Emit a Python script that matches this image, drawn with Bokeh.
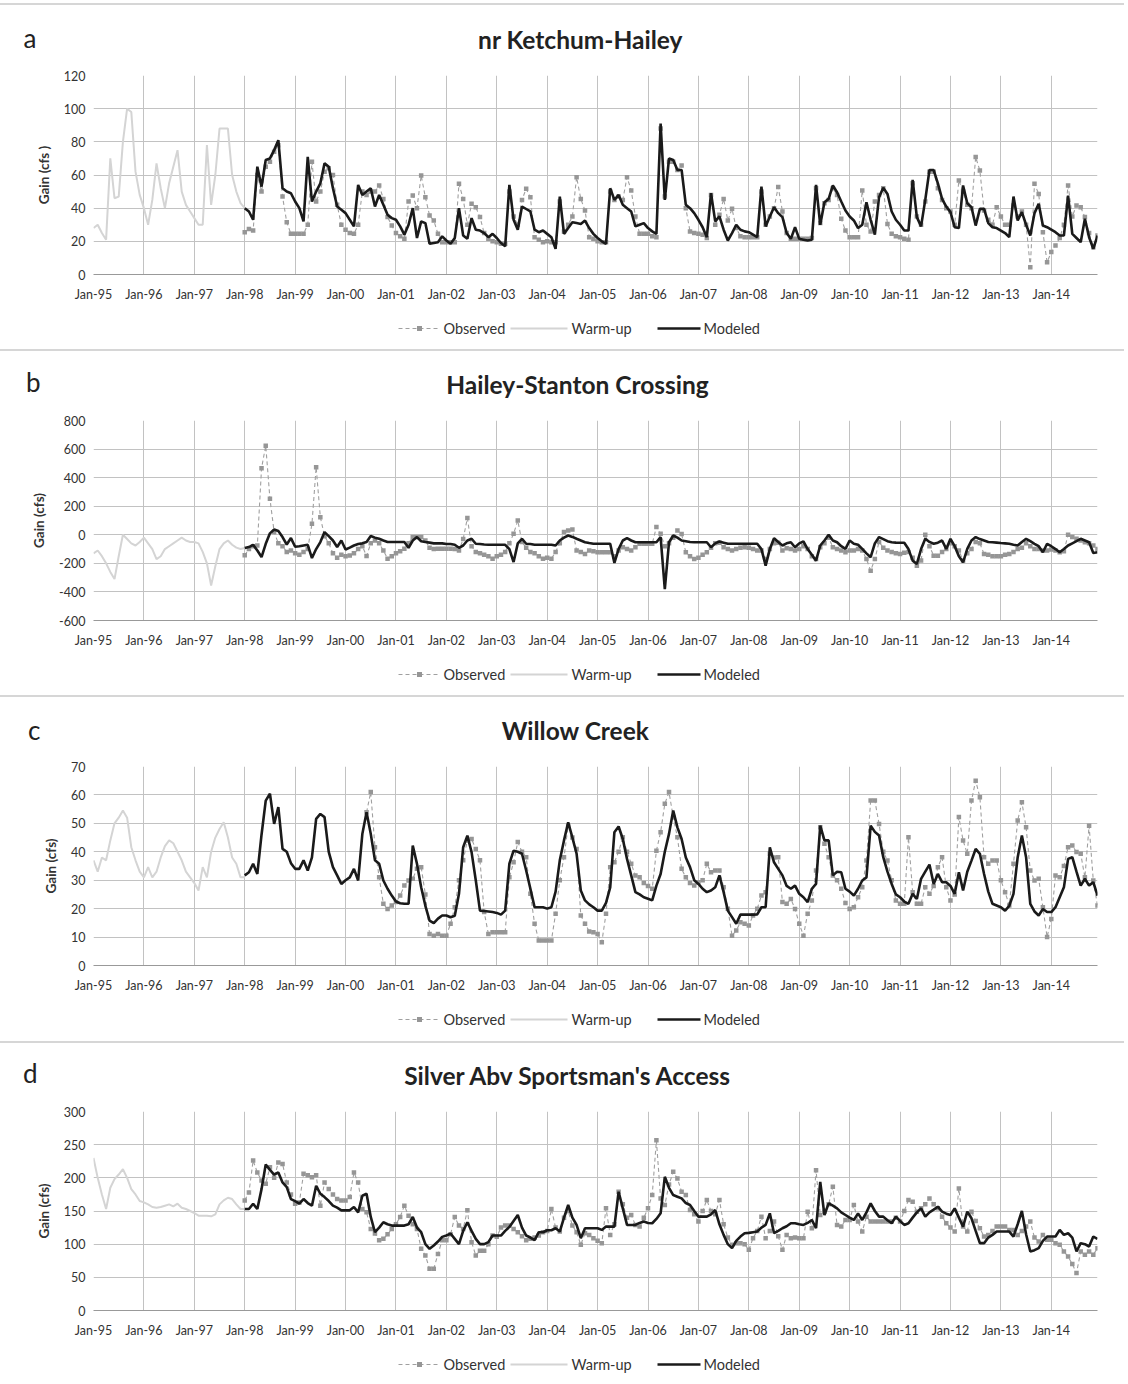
import sys
import numpy as np
from bokeh.plotting import figure
from bokeh.models import Range1d, FixedTicker, Div
from bokeh.layouts import column
from bokeh.embed import file_html
from bokeh.resources import INLINE
from bokeh.core.properties import value

N = None

# x axis: month index 0 = Jan-95 ... 239 = Dec-14 ; ticks every January
X_TICKS = [0, 12, 24, 36, 48, 60, 72, 84, 96, 108, 120, 132, 144, 156, 168, 180, 192, 204, 216, 228]
X_TICK_LABELS = ["Jan-95", "Jan-96", "Jan-97", "Jan-98", "Jan-99", "Jan-00", "Jan-01", "Jan-02",
                 "Jan-03", "Jan-04", "Jan-05", "Jan-06", "Jan-07", "Jan-08", "Jan-09", "Jan-10",
                 "Jan-11", "Jan-12", "Jan-13", "Jan-14"]
LEGEND_LABELS = ["Observed", "Warm-up", "Modeled"]
WARM_START = 0      # Jan-95
MODEL_START = 36    # Jan-98

# ---------------- a: nr Ketchum-Hailey ----------------
A_WARM = [28, 30, 25, 21, 70, 46, 47, 80, 100, 98, 62, 48,
          40, 30, 45, 67, 52, 40, 55, 65, 75, 50, 42, 38,
          34, 30, 30, 78, 42, 60, 88, 88, 88, 60, 50, 43,
          40]
A_MOD = [40, 38, 33, 65, 53, 69, 70, 75, 81, 52, 50, 49,
         44, 40, 32, 71, 44, 50, 55, 67, 65, 52, 41, 39,
         37, 33, 29, 54, 48, 50, 52, 41, 48, 42, 36, 34,
         33, 29, 24, 30, 40, 22, 32, 31, 18.5, 19, 19.5, 23,
         20.5, 18.5, 22, 40, 23.5, 21.5, 34, 27, 26.5, 25, 22.5, 24.5,
         22, 19, 17, 54, 33, 27, 41, 39.5, 38, 27, 25.5, 26.5,
         24.5, 22.5, 15.5, 47, 24.5, 28, 31.5, 31, 30.5, 32.5, 28, 24.5,
         22, 20, 18.5, 52, 45, 48, 42, 40, 38, 29, 30, 31,
         28, 26, 24.5, 91, 45, 70, 69, 63, 63, 42, 40, 37,
         33, 28.5, 22.5, 49, 32, 35, 27, 20.5, 25, 30, 27, 26,
         25.5, 24, 22.5, 53, 29, 35, 40.6, 37, 34.6, 25, 21.5, 28.5,
         21.5, 21, 20.5, 21, 54, 30, 43.6, 45.6, 53.7, 49.6, 44, 38.6,
         35, 32.6, 28, 30, 43.6, 33, 24, 46.6, 52.3, 48.6, 38, 33,
         30, 26.5, 26.5, 57, 34.6, 29, 45, 63, 63, 55, 45.6, 41,
         37.6, 28.5, 28, 53.7, 43, 40.6, 29.5, 39.6, 39.6, 31, 28.5, 28,
         26.5, 25, 22.5, 47, 32.6, 37.6, 30, 23.5, 37, 42.6, 29.5, 28.5,
         27, 25.5, 23.5, 23.5, 47.6, 24.5, 22, 19.5, 33.6, 22.5, 15.5, 23.5]
A_OBS = [25.5, 27.5, 26.5, 60, 50, 65, 68, 74, 78, 47, 31.5, 24.5,
         24.5, 24.5, 24.5, 30, 68, 44, 50, 62, 64, 60, 42, 30,
         27, 25, 24.5, 30, 50, 48, 50, 50, 53.7, 45.6, 34.6, 29.5,
         25, 23, 21.5, 44, 47.6, 40, 59.7, 46.6, 35.6, 32.6, 24.5, 19.5,
         19.5, 19.5, 19.5, 54.7, 45.6, 30, 42.6, 40.6, 34.6, 25, 21.5, 20,
         19.5, 18.5, 18.5, 50, 35, 30, 45, 51.7, 46.6, 22.5, 21, 19.5,
         20, 19.5, 19.5, 44, 26, 30, 35, 58.7, 45.6, 38.6, 22.5, 21.5,
         20, 19.5, 19.5, 50, 45, 47, 45, 58.7, 50.7, 35, 24.5, 24.5,
         24.5, 23, 22.5, 88, 47, 68, 68, 63, 65.7, 40, 26, 25,
         24.5, 24, 22, 48, 30, 36, 45.6, 32.6, 39.6, 28, 23, 22.5,
         22.5, 22.5, 22.5, 50, 30, 35, 40, 52.7, 38, 25, 21.5, 21.5,
         21.5, 21.5, 21.5, 22, 52, 31, 43, 45, 52, 48, 33.6, 26.5,
         22.5, 22.5, 22.5, 50.7, 30, 26, 44, 48, 52, 30.5, 24.5, 23,
         22.5, 21.5, 21, 55, 35, 30, 44, 62, 62, 52, 45, 40,
         38, 30, 56.7, 50, 42, 40, 70.8, 62.7, 38.6, 33, 30, 40.6,
         35, 30, 30, 41.6, 35, 38, 30, 4.4, 54.7, 48.6, 25.5, 7.4,
         13.5, 17.5, 22, 30, 53.7, 35, 41.6, 40.6, 34.6, 25, 16.5, 23.5]

# ---------------- b: Hailey-Stanton Crossing ----------------
B_WARM = [-130, -110, -150, -200, -260, -310, -150, 0, -30, -60, -75, -50,
          -20, -60, -100, -170, -150, -100, -80, -60, -40, -20, -40, -50,
          -50, -60, -120, -200, -355, -220, -100, -60, -40, -70, -90, -100,
          -93]
B_MOD = [-93, -86, -70, -110, -156, -63, 10, 37, 26, -16, -68, -23,
         -84, -80, -75, -70, -163, -100, -51, 19, -9, -40, -86, -40,
         -103, -90, -75, -65, -60, -51, -9, -20, -28, -40, -50, -51,
         -51, -51, -51, -91, -40, -16, -45, -51, -55, -60, -60, -60,
         -65, -65, -70, -91, -75, -40, -28, -63, -65, -68, -70, -70,
         -70, -70, -70, -100, -191, -60, -28, -63, -65, -70, -70, -70,
         -70, -70, -75, -40, -20, -5, -15, -28, -40, -52, -58, -63,
         -63, -63, -63, -63, -197, -100, -40, -24, -40, -52, -52, -52,
         -52, -52, -52, -16, -380, -52, -5, -20, -40, -45, -50, -52,
         -52, -52, -52, -87, -60, -47, -55, -63, -63, -63, -63, -63,
         -63, -63, -63, -100, -216, -100, -24, -50, -75, -60, -52, -87,
         -60, -47, -100, -140, -181, -75, -40, 0, -40, -52, -80, -99,
         -40, -63, -70, -99, -130, -157, -60, -16, -30, -45, -52, -55,
         -56, -56, -100, -181, -204, -100, -28, -50, -63, -55, -40, -99,
         -28, -80, -150, -193, -99, -40, -16, -30, -40, -50, -52, -55,
         -58, -60, -63, -70, -75, -50, -28, -45, -63, -80, -122, -63,
         -80, -100, -122, -100, -75, -60, -45, -28, -40, -52, -127, -122]
B_OBS = [-144, -100, -80, -75, 466, 624, 252, 20, -60, -80, -120, -110,
         -130, -140, -120, -100, 77, 473, 123, -10, -60, -130, -160, -140,
         -150, -145, -130, -100, -80, -149, -60, -40, -60, -110, -167, -150,
         -130, -115, -98, -60, -16, -16, -16, -40, -90, -100, -98, -98,
         -98, -98, -100, -110, -30, 117, -80, -120, -130, -140, -150, -167,
         -150, -140, -120, -60, 7, 100, -50, -90, -120, -130, -150, -167,
         -160, -167, -120, -60, 20, 30, 37, -110, -120, -134, -110, -115,
         -122, -122, -122, -122, -150, -110, -87, -100, -110, -87, -63, -63,
         -63, -63, 54, 7, -80, -60, -20, 30, 5, -122, -150, -170,
         -160, -140, -122, -90, -60, -55, -87, -100, -110, -100, -90, -87,
         -90, -100, -110, -110, -170, -100, -60, -55, -110, -95, -99, -110,
         -99, -80, -100, -150, -170, -87, -60, -20, -87, -100, -110, -122,
         -110, -110, -99, -110, -170, -251, -170, -50, -90, -110, -120, -130,
         -134, -125, -120, -160, -216, -180, 0, -80, -146, -146, -120, -100,
         -60, -80, -110, -180, -130, -100, -50, -60, -134, -140, -150, -150,
         -150, -140, -134, -120, -100, -90, -60, -80, -99, -100, -110, -110,
         -103, -110, -122, -115, 0, -16, -28, -40, -52, -60, -75, -100]

# ---------------- c: Willow Creek ----------------
C_WARM = [37, 33, 38, 37, 44, 50, 52, 54.5, 52, 41.6, 37, 33,
          31, 34.6, 31, 33, 38, 42, 44, 43, 40, 37, 33, 31,
          29, 26.4, 34.6, 31, 40, 45, 48, 50.4, 45, 38, 35.8, 31,
          31]
C_MOD = [31.7, 32.8, 35.8, 32.2, 46, 58, 60.4, 49.8, 55.7, 41, 40, 36,
         34, 34, 37, 33.4, 38, 51.6, 53.3, 52.2, 40, 34.6, 31.7, 28.7,
         30, 31, 34, 29.9, 46.3, 53.9, 46.3, 37, 35.8, 29.9, 27, 24.6,
         22.5, 21.9, 21.7, 21.7, 42.2, 35.8, 27.5, 21, 15.8, 14.9, 16.5, 17.6,
         17.6, 17, 17.5, 25.2, 41.6, 45.7, 39.9, 30, 19.3, 19.2, 19, 18.8,
         18.5, 17.9, 19.3, 35.8, 40.4, 40, 39.3, 33.4, 27, 20.5, 20.5, 20.5,
         20, 20.5, 26, 37, 44, 50.4, 45, 39.3, 26.4, 22.9, 21.5, 20.5,
         19.3, 19.3, 22, 27.5, 46.9, 48.9, 44.5, 37.5, 31.7, 25.8, 25, 24,
         23.5, 22.9, 28.1, 32.2, 40, 46.3, 54.5, 48.6, 44.5, 38, 34.6, 30,
         28.7, 27, 25.8, 26.4, 27.5, 31.7, 25.8, 19.3, 17, 14.7, 17.9, 17.9,
         17.9, 17.9, 18, 20.5, 20.5, 41.6, 36.3, 34, 31.7, 28, 27, 28.1,
         25.2, 24, 22.3, 27, 28.7, 49.2, 44, 44, 31.7, 33, 32.8, 27,
         26, 24.6, 27, 29.9, 31, 49.2, 47, 45.7, 38.1, 33, 28.7, 25,
         24, 22.5, 21.7, 25.2, 23.4, 30.5, 33, 35.5, 28.7, 32.2, 29.3, 29.3,
         28, 25.2, 32.8, 26.4, 33, 36.9, 41, 39.3, 32.2, 26, 21.7, 21.1,
         20.5, 19.3, 21, 25.2, 38.1, 45.7, 38.1, 21.7, 19, 17.6, 19.9, 18.8,
         18.8, 20.5, 24, 27.5, 37.5, 38.1, 33, 28.1, 30.5, 28.1, 29.3, 24.6]
C_OBS = [N, N, N, N, N, N, N, N, N, N, N, N,
         N, N, N, N, N, N, N, N, N, N, N, N,
         N, N, N, N, N, 53.9, 61, 41.6, 31, 21.7, 19.9, 21.1,
         22.3, 24.6, 28.1, 29.9, 30.5, 34, 34.6, 25, 11.1, 10.5, 11.1, 10.5,
         10.5, 14.7, 20.5, 30, 37, 44, 44.5, 41, 37, 18.8, 11.1, 11.7,
         11.7, 11.7, 11.7, 31, 36.3, 43.4, 40, 38.1, 25.2, 14.7, 8.8, 8.8,
         8.8, 8.8, 18.2, 30, 38.1, 49.2, 45, 41, 17.6, 14.7, 12, 11.7,
         11.1, 8.2, 18.2, 34.6, 36.3, 40, 45.1, 40, 35.8, 31.7, 31, 29,
         28, 27, 40.4, 46.9, 56.9, 61, 52.2, 45.1, 34, 31, 29, 28.1,
         29.3, 30, 35.8, 32.8, 33.4, 33.4, 27.5, 20, 10.5, 12.3, 15.2, 14.7,
         14.1, 17.6, 20, 24.6, 25.8, 39.3, 38, 38.1, 22.3, 21.7, 23.4, 19.9,
         14.7, 10.5, 18.2, 22.9, 33.4, 48.6, 42.8, 38.1, 31.7, 30, 27, 22,
         19.9, 20.5, 24, 27.5, 36.9, 58, 58, 49.8, 40, 36.9, 30, 22.9,
         21.7, 21.7, 45.1, 25.8, 21.7, 21.7, 27.5, 25.2, 28, 34.6, 38.1, 27.5,
         22.9, 25, 52.2, 44, 39.3, 58, 65, 59.2, 38.1, 35.8, 36.9, 36.9,
         30, 25.8, 21.1, 35.8, 51, 57.4, 48.6, 33.4, 29.9, 30.5, 20.5, 10,
         16.4, 31.7, 31, 35, 41.6, 42.2, 39.9, 39.3, 31, 49.2, 29.9, 21.1]

# ---------------- d: Silver Abv Sportsman's Access ----------------
D_WARM = [230, 200, 175, 153, 185, 198, 205, 213, 200, 183, 175, 165,
          163, 160, 156, 155, 156, 158, 160, 157, 161, 155, 153, 150,
          147, 143, 143, 143, 142, 145, 160, 166, 170, 168, 160, 153,
          153]
D_MOD = [153, 153, 161, 153, 183, 220, 212, 205, 208, 193, 186, 168,
         165, 161, 168, 162, 158, 188, 176, 171, 165, 158, 155, 151,
         151, 151, 156, 148, 173, 176, 141, 118, 125, 133, 130, 128,
         128, 128, 128, 130, 141, 125, 118, 100, 93, 98, 104, 111,
         113, 116, 108, 100, 120, 133, 120, 108, 100, 100, 103, 113,
         113, 113, 120, 126, 135, 144, 125, 113, 110, 106, 118, 118,
         121, 121, 124, 119, 140, 159, 140, 129, 109, 124, 124, 124,
         124, 121.5, 126.5, 126.5, 126.5, 179, 154, 129, 129, 129, 132, 134,
         132, 131.5, 138, 146.5, 201.5, 185, 174, 171.5, 169, 162, 159, 150,
         141.5, 141.5, 141.5, 145, 151.5, 130, 114, 100, 94, 105, 111.5, 116.5,
         117, 118, 119, 125, 129, 146.5, 116.5, 120, 124, 127, 131.5, 131.5,
         130, 129, 132, 136.5, 124, 194, 144, 161.5, 158, 154, 148, 144,
         140, 136.5, 146.5, 136.5, 148, 161.5, 150, 141.5, 141.5, 136, 131.5, 141.5,
         135, 129, 131.5, 140, 148, 154, 141.5, 148, 152, 156.5, 149, 146,
         144, 154, 140, 126.5, 149, 139, 120, 101.5, 101.5, 110, 114, 119,
         119, 119, 119, 111.5, 130, 150, 115, 89, 91, 94, 105, 111.5,
         111.5, 111.5, 121.5, 114, 116.5, 110, 89, 101.5, 100, 96.5, 111.5, 108]
D_OBS = [166, 178, 226, 208, 196, 191, 216, 200, 223, 221, 193, 175,
         161, 163, 206, 204, 201, 204, 158, 193, 183, 175, 168, 166,
         166, 171, 208, 193, 153, 148, 123, 116, 106, 108, 115, 123,
         130, 141, 158, 143, 130, 123, 93, 83, 63, 63, 85, 106,
         106, 115, 141, 128, 123, 151, 103, 83, 90, 90, 100, 113,
         111, 125, 128, 128, 123, 118, 112, 106, 108, 110, 113, 118,
         120, 153, 125, 119, 140, 150, 128, 118, 99, 116.5, 114, 109,
         105, 101.5, 154, 114, 130, 179, 160, 140, 144, 129, 126.5, 140,
         154, 174, 256.5, 169, 159, 190, 209, 199, 179, 174, 151.5, 145,
         134, 150, 166.5, 150, 145, 166.5, 130, 110, 99, 101.5, 101.5, 100,
         91.5, 109, 120, 141.5, 109, 120, 134, 112, 91.5, 114, 109, 110,
         109, 109, 149, 124, 211.5, 144, 149, 160, 186.5, 129, 126.5, 136.5,
         136.5, 159, 134, 119, 141.5, 134, 134, 134, 134, 134, 134, 140,
         134, 150, 166.5, 164, 149, 154, 160, 169, 160, 154, 141.5, 131.5,
         125, 119, 184, 126.5, 119, 149, 135, 124, 111.5, 114, 120, 126.5,
         126.5, 126.5, 121.5, 121.5, 114, 120, 126.5, 134, 110, 104, 114, 106.5,
         106.5, 101.5, 99, 89, 81.5, 70, 56.5, 89, 84, 89, 84, 94]

PANELS = [
    dict(letter="a", title="nr Ketchum-Hailey", ylabel="Gain (cfs )", ymin=0, ymax=120, ystep=20,
         warm=A_WARM, mod=A_MOD, obs=A_OBS, top=75, fh=199, tx=580, lx=29, ly=30),
    dict(letter="b", title="Hailey-Stanton Crossing", ylabel="Gain (cfs)", ymin=-600, ymax=800, ystep=200,
         warm=B_WARM, mod=B_MOD, obs=B_OBS, top=74, fh=200, tx=577, lx=33, ly=31),
    dict(letter="c", title="Willow Creek", ylabel="Gain (cfs)", ymin=0, ymax=70, ystep=10,
         warm=C_WARM, mod=C_MOD, obs=C_OBS, top=74, fh=199, tx=575, lx=33, ly=29),
    dict(letter="d", title="Silver Abv Sportsman's Access", ylabel="Gain (cfs)", ymin=0, ymax=300, ystep=50,
         warm=D_WARM, mod=D_MOD, obs=D_OBS, top=73, fh=199, tx=568, lx=30, ly=31),
]

FONT = "Lato"
W, PANEL_H = 1124, 346
L, FW = 93, 1004          # frame left edge and width (page pixels)
R = W - L - FW
CHART_TOP, CHART_BOTTOM = 8, 34
SEP_H = 6                 # 3px gap + 2px line + 1px gap
XMAX = 239
TXT = "#333333"
GRID = "#c2c2c2"
WARM_COLOR, OBS_COLOR, OBS_MARK, MOD_COLOR = "#d4d4d4", "#a0a0a0", "#969696", "#1a1a1a"


def blank(h, yaxis=False):
    # frame spans page x L..L+FW, so data x == page x inside it
    p = figure(width=W, height=h, x_range=Range1d(L, L + FW), y_range=Range1d(0, h),
               x_axis_type=None, y_axis_type=("linear" if yaxis else None),
               toolbar_location=None, output_backend="svg",
               min_border_left=L, min_border_right=R, min_border_top=0, min_border_bottom=0)
    p.outline_line_color = None
    p.grid.visible = False
    return p


def separator():
    return Div(text="", width=W, height=2, margin=(3, 0, 1, 0),
               styles={"background-color": "#d6d6d6"})


def header(cfg):
    h = cfg["top"] - CHART_TOP - SEP_H
    p = blank(h, yaxis=True)
    # panel letter drawn as the single tick label of a bare y axis
    ax = p.yaxis[0]
    ax.ticker = FixedTicker(ticks=[cfg["ly"]])
    ax.major_label_overrides = {cfg["ly"]: cfg["letter"]}
    ax.axis_line_color = None
    ax.major_tick_line_color = None
    ax.minor_tick_line_color = None
    ax.major_tick_out = 0
    ax.major_tick_in = 0
    ax.major_label_standoff = L - cfg["lx"] - 7
    ax.major_label_text_font = FONT
    ax.major_label_text_font_size = "26px"
    ax.major_label_text_color = "#222222"
    p.text(x=[cfg["tx"]], y=[28], text=[cfg["title"]], text_align="center",
           text_baseline="middle", text_font=value(FONT), text_font_style="bold",
           text_font_size="24.5px", text_color="#222222")
    return p


def legend(cfg):
    h = PANEL_H - (cfg["top"] - CHART_TOP) - (CHART_TOP + cfg["fh"] + CHART_BOTTOM)
    p = blank(h)
    yc = h - 20
    # Observed
    p.line([398, 440], [yc, yc], line_color=OBS_COLOR, line_width=1.2, line_dash="4 3")
    p.scatter([419], [yc], marker="square", size=5, fill_color=OBS_MARK, line_color=None)
    # Warm-up
    p.line([510, 567], [yc, yc], line_color=WARM_COLOR, line_width=2)
    # Modeled
    p.line([657, 700], [yc, yc], line_color=MOD_COLOR, line_width=2.6)
    p.text(x=[443, 571, 703], y=[yc, yc, yc], text=LEGEND_LABELS, text_align="left",
           text_baseline="middle", text_font=value(FONT), text_font_size="14.5px",
           text_color=TXT)
    return p


def chart(cfg):
    ymin, ymax = cfg["ymin"], cfg["ymax"]
    p = figure(width=W, height=CHART_TOP + cfg["fh"] + CHART_BOTTOM, output_backend="svg",
               toolbar_location=None, x_range=Range1d(0, XMAX), y_range=Range1d(ymin, ymax),
               min_border_left=L, min_border_right=R,
               min_border_top=CHART_TOP, min_border_bottom=CHART_BOTTOM)
    p.outline_line_color = None

    yvals = list(range(ymin, ymax + 1, cfg["ystep"]))
    xt = FixedTicker(ticks=X_TICKS)
    yt = FixedTicker(ticks=yvals)
    p.xaxis.ticker = xt
    p.xgrid.ticker = xt
    p.yaxis.ticker = yt
    p.ygrid.ticker = yt
    p.xaxis.major_label_overrides = {t: l for t, l in zip(X_TICKS, X_TICK_LABELS)}
    p.yaxis.major_label_overrides = {v: str(v) for v in yvals}
    for g in (p.xgrid, p.ygrid):
        g.grid_line_color = GRID
        g.grid_line_width = 1
    for ax in (p.xaxis, p.yaxis):
        ax.major_tick_line_color = None
        ax.minor_tick_line_color = None
        ax.major_tick_out = 0
        ax.major_tick_in = 0
        ax.major_label_text_font = FONT
        ax.major_label_text_font_size = "12.5px"
        ax.major_label_text_color = TXT
    p.xaxis.axis_line_color = "#999999"
    p.yaxis.axis_line_color = None
    p.xaxis.major_label_standoff = 12
    p.yaxis.major_label_standoff = 8
    p.yaxis.axis_label = cfg["ylabel"]
    p.yaxis.axis_label_text_font = FONT
    p.yaxis.axis_label_text_font_style = "bold"
    p.yaxis.axis_label_text_font_size = "13.5px"
    p.yaxis.axis_label_text_color = TXT
    p.yaxis.axis_label_standoff = 9

    warm = np.array(cfg["warm"], dtype=float)
    mod = np.array(cfg["mod"], dtype=float)
    obs = np.array([np.nan if v is None else v for v in cfg["obs"]], dtype=float)
    for name, arr in (("warm", warm), ("mod", mod), ("obs", obs)):
        print(cfg["letter"], name, len(arr), file=sys.stderr)
    xw = np.arange(WARM_START, WARM_START + len(warm))
    xm = np.arange(MODEL_START, MODEL_START + len(mod))
    xo = np.arange(MODEL_START, MODEL_START + len(obs))

    p.line(xw, warm, line_color=WARM_COLOR, line_width=2)
    p.line(xo, obs, line_color=OBS_COLOR, line_width=1.1, line_dash="4 3")
    p.scatter(xo, obs, marker="square", size=4.5, fill_color=OBS_MARK, line_color=None)
    p.line(xm, mod, line_color=MOD_COLOR, line_width=2.6)
    return p


parts = []
for c in PANELS:
    parts.extend([separator(), header(c), chart(c), legend(c)])
layout = column(*parts, spacing=0)
open("out.html", "w").write(file_html(layout, INLINE))
